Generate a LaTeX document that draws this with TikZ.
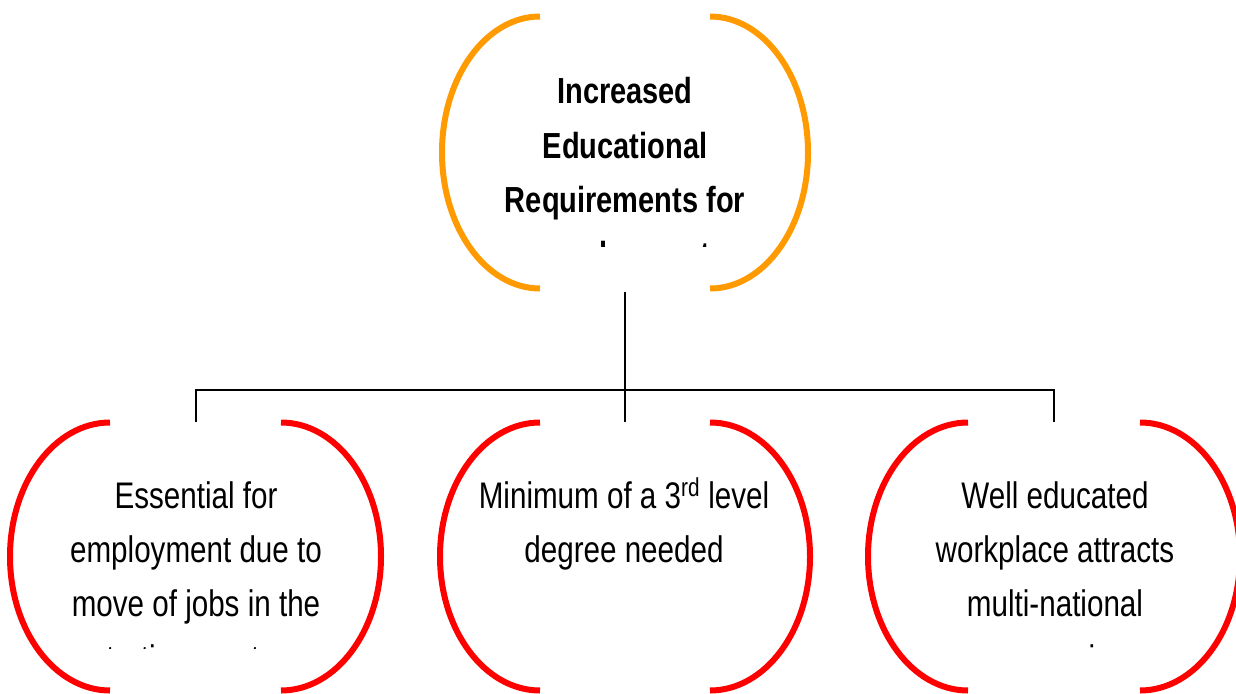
\documentclass[tikz,border=0pt]{standalone}
\usepackage{fontspec}
\setmainfont{Liberation Sans}
\newcommand\stretchtext[1]{\scalebox{1}[1.25]{#1}}
\definecolor{bubbleorange}{HTML}{FF9A00}
\definecolor{bubblered}{HTML}{FF0000}
\tikzset{
  ln/.style={font=\fontsize{29.6}{30}\selectfont, anchor=base, inner sep=0pt},
  lnbold/.style={ln, font=\fontsize{29}{30}\selectfont\bfseries},
  slot/.style={draw=none, inner sep=0pt, minimum width=370pt},
  rim/.style={line width=6pt},
  link/.style={line width=2pt, black}
}
\begin{document}
\begin{tikzpicture}[x=1pt, y=-1pt]
\useasboundingbox (0,0) rectangle (1236,693);

% placeholders for the four bubbles
\node[slot, minimum height=272pt] (top)       at (625,152.5) {};
\node[slot, minimum height=268pt] (essential) at (195.5,556.5) {};
\node[slot, minimum height=268pt] (minimum)   at (625,556.5) {};
\node[slot, minimum height=268pt] (workplace) at (1054,556.5) {};

% bubble outlines: two half-ellipses each, open at top and bottom
\draw[rim, bubbleorange] (540,16.5) arc[start angle=270, end angle=90, x radius=98, y radius=136];
\draw[rim, bubbleorange] (710,16.5) arc[start angle=-90, end angle=90, x radius=98, y radius=136];
\foreach \l/\r in {110/281, 540/710, 968/1140} {
  \draw[rim, bubblered] (\l,422.5) arc[start angle=270, end angle=90, x radius=100, y radius=134];
  \draw[rim, bubblered] (\r,422.5) arc[start angle=-90, end angle=90, x radius=100, y radius=134];
}

% connectors
\coordinate (hub) at (625,390);
\draw[link] ([yshift=-3pt]top.south) -- (minimum.north);
\draw[link] (essential.north) -- (essential.north |- hub) -- (workplace.north |- hub) -- (workplace.north);

% top bubble text
\node[lnbold] (topA) at (625,103) {\stretchtext{Increased}};
\node[lnbold] (topB) at (625,158) {\stretchtext{Educational}};
\node[lnbold] (topC) at (625,212) {\stretchtext{Requirements for}};
\begin{scope}
  \clip (0,0) rectangle (1236,246);
  \node[lnbold] (topD) at (625,267) {\stretchtext{employment}};
\end{scope}

% left bubble text
\node[ln] (essA) at (196,508) {\stretchtext{Essential for}};
\node[ln] (essB) at (196,562) {\stretchtext{employment due to}};
\node[ln] (essC) at (196,616) {\stretchtext{move of jobs in the}};

% middle bubble text
\node[ln] (minA) at (624,508) {\stretchtext{Minimum of a 3\textsuperscript{rd} level}};
\node[ln] (minB) at (624,562) {\stretchtext{degree needed}};

% right bubble text
\node[ln] (wrkA) at (1055,508) {\stretchtext{Well educated}};
\node[ln] (wrkB) at (1055,562) {\stretchtext{workplace attracts}};
\node[ln] (wrkC) at (1055,616) {\stretchtext{multi-national}};

% last lines of the lower bubbles run past the frame
\begin{scope}
  \clip (0,600) rectangle (1236,648);
  \node[ln] (essD) at (196,671) {\stretchtext{tertiary sector}};
  \node[ln] (wrkD) at (1055,671) {\stretchtext{companies}};
\end{scope}
\end{tikzpicture}
\end{document}
